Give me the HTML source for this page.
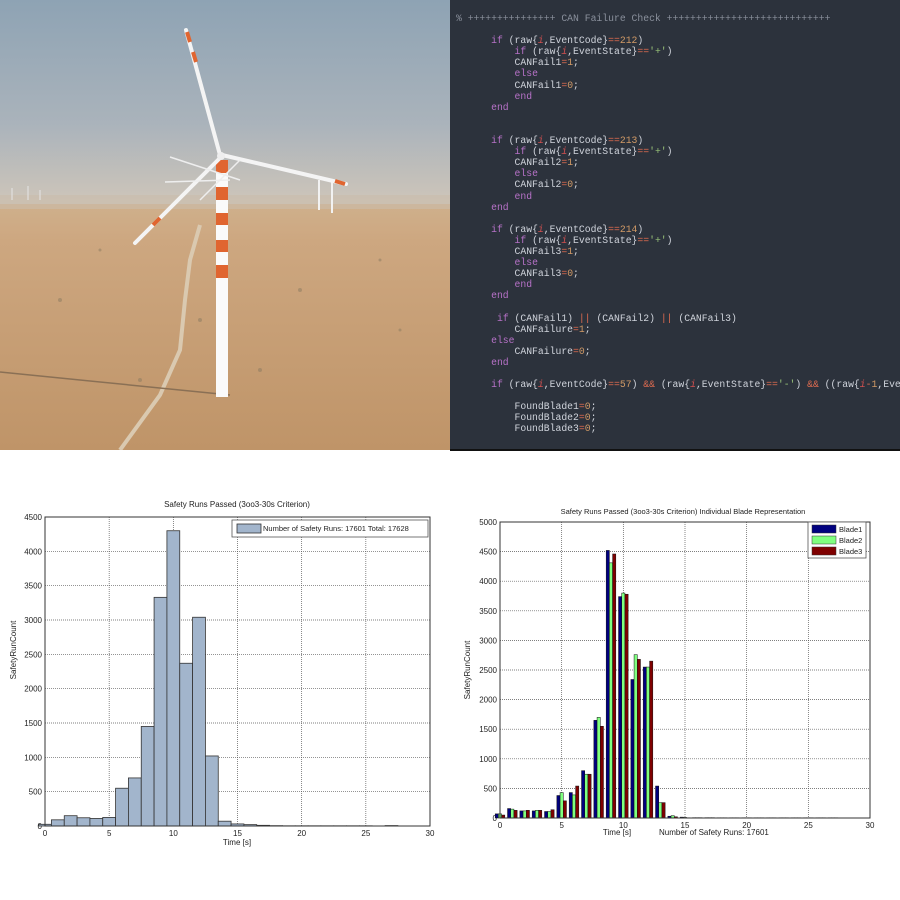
<!DOCTYPE html>
<html><head><meta charset="utf-8"><style>
html,body{margin:0;padding:0;background:#fff;width:900px;height:900px;overflow:hidden}
#root{position:relative;width:900px;height:900px}
#code{position:absolute;left:450px;top:0;width:450px;height:449px;background:#2c323c;overflow:hidden;border-bottom:2px solid #111}
#code pre{margin:0;position:absolute;left:456px;top:0;font-family:"Liberation Mono",monospace;font-size:9.75px;line-height:11.1px;color:#d0d4dc;white-space:pre}
.k{color:#b772c8}.n{color:#d19a66}.o{color:#e06c50}.v{color:#d05050;font-style:italic}.s{color:#98c379}.c{color:#8a909c}
svg text{font-family:"Liberation Sans",sans-serif}
</style></head><body><div id="root">
<svg id="photo" width="450" height="450" style="position:absolute;left:0;top:0">
<defs><linearGradient id="sky" x1="0" y1="0" x2="0" y2="1"><stop offset="0" stop-color="#8ea3b4"/><stop offset="0.6" stop-color="#aab3bb"/><stop offset="1" stop-color="#cfc6ba"/></linearGradient>
<linearGradient id="gr" x1="0" y1="0" x2="0" y2="1"><stop offset="0" stop-color="#cfb08c"/><stop offset="0.15" stop-color="#cda780"/><stop offset="1" stop-color="#bf9468"/></linearGradient></defs>
<rect width="450" height="206" fill="url(#sky)"/>
<rect y="204" width="450" height="246" fill="url(#gr)"/>
<rect y="195" width="450" height="14" fill="#c9bcab" opacity="0.6"/>
<g fill="#8a7a60" opacity="0.5"><circle cx="60" cy="300" r="2"/><circle cx="300" cy="290" r="2"/><circle cx="380" cy="260" r="1.5"/><circle cx="100" cy="250" r="1.5"/><circle cx="200" cy="320" r="2"/><circle cx="140" cy="380" r="2"/><circle cx="400" cy="330" r="1.5"/><circle cx="260" cy="370" r="2"/></g>
<path d="M200 225 L190 260 L185 300 L180 350 L160 395 L120 450" stroke="#dac9b0" stroke-width="4" fill="none"/>
<path d="M0 372 L230 395" stroke="#8a7055" stroke-width="1.5"/>
<g stroke="#f2f2f2" stroke-width="2"><line x1="319" y1="180" x2="319" y2="210"/><line x1="332" y1="180" x2="332" y2="213"/></g>
<g stroke="#e6e6e6" stroke-width="1"><line x1="12" y1="188" x2="12" y2="200"/><line x1="28" y1="186" x2="28" y2="200"/><line x1="40" y1="190" x2="40" y2="200"/></g>
<g fill="#fafafa"><rect x="216" y="160" width="12" height="237"/></g>
<g fill="#e06530"><rect x="216" y="160" width="12" height="13"/><rect x="216" y="187" width="12" height="13"/><rect x="216" y="213" width="12" height="12"/><rect x="216" y="240" width="12" height="12"/><rect x="216" y="265" width="12" height="13"/></g>
<g stroke="#f4f4f4" stroke-width="4" stroke-linecap="round"><line x1="220" y1="155" x2="186" y2="30"/><line x1="220" y1="158" x2="135" y2="243"/><line x1="222" y1="155" x2="346" y2="184"/></g>
<g stroke="#e06530" stroke-width="4"><line x1="190" y1="42" x2="187" y2="32"/><line x1="196" y1="62" x2="193" y2="52"/><line x1="160" y1="218" x2="153" y2="225"/><line x1="345" y1="184" x2="335" y2="181"/></g>
<circle cx="221" cy="156" r="4" fill="#eee"/>
<g stroke="#eee" stroke-width="1.5"><line x1="170" y1="157" x2="240" y2="180"/><line x1="200" y1="200" x2="240" y2="160"/><line x1="230" y1="180" x2="165" y2="182"/></g>
</svg>
<div id="code"><pre style="left:6px;top:13px"><span class="c">% +++++++++++++++ CAN Failure Check ++++++++++++++++++++++++++++</span>

      <span class="k">if</span> (raw{<span class="v">i</span>,EventCode}<span class="o">==</span><span class="n">212</span>)
          <span class="k">if</span> (raw{<span class="v">i</span>,EventState}<span class="o">==</span><span class="s">'+'</span>)
          CANFail1<span class="o">=</span><span class="n">1</span>;
          <span class="k">else</span>
          CANFail1<span class="o">=</span><span class="n">0</span>;
          <span class="k">end</span>
      <span class="k">end</span>


      <span class="k">if</span> (raw{<span class="v">i</span>,EventCode}<span class="o">==</span><span class="n">213</span>)
          <span class="k">if</span> (raw{<span class="v">i</span>,EventState}<span class="o">==</span><span class="s">'+'</span>)
          CANFail2<span class="o">=</span><span class="n">1</span>;
          <span class="k">else</span>
          CANFail2<span class="o">=</span><span class="n">0</span>;
          <span class="k">end</span>
      <span class="k">end</span>

      <span class="k">if</span> (raw{<span class="v">i</span>,EventCode}<span class="o">==</span><span class="n">214</span>)
          <span class="k">if</span> (raw{<span class="v">i</span>,EventState}<span class="o">==</span><span class="s">'+'</span>)
          CANFail3<span class="o">=</span><span class="n">1</span>;
          <span class="k">else</span>
          CANFail3<span class="o">=</span><span class="n">0</span>;
          <span class="k">end</span>
      <span class="k">end</span>

       <span class="k">if</span> (CANFail1) <span class="o">||</span> (CANFail2) <span class="o">||</span> (CANFail3)
          CANFailure<span class="o">=</span><span class="n">1</span>;
      <span class="k">else</span>
          CANFailure<span class="o">=</span><span class="n">0</span>;
      <span class="k">end</span>

      <span class="k">if</span> (raw{<span class="v">i</span>,EventCode}<span class="o">==</span><span class="n">57</span>) <span class="o">&amp;&amp;</span> (raw{<span class="v">i</span>,EventState}<span class="o">==</span><span class="s">'-'</span>) <span class="o">&amp;&amp;</span> ((raw{<span class="v">i</span><span class="o">-</span><span class="n">1</span>,EventState

          FoundBlade1<span class="o">=</span><span class="n">0</span>;
          FoundBlade2<span class="o">=</span><span class="n">0</span>;
          FoundBlade3<span class="o">=</span><span class="n">0</span>;
</pre></div>
<svg id="c1" width="450" height="450" style="position:absolute;left:0;top:450px"></svg>
<svg id="c2" width="450" height="450" style="position:absolute;left:450px;top:450px"></svg>
</div>
<script>
const histBins = [0,1,2,3,4,5,6,7,8,9,10,11,12,13,14,15,16,17,18,19,20,21,22,23,24,25,26,27];
const histCounts = [25,90,150,120,110,125,550,700,1450,3330,4300,2370,3040,1020,70,30,20,10,5,3,3,3,3,3,3,3,0,6];
const histTicksX = [0,5,10,15,20,25,30];
const histTicksY = [0,500,1000,1500,2000,2500,3000,3500,4000,4500];
const bladeBins = [0,1,2,3,4,5,6,7,8,9,10,11,12,13,14,15,16,17,18,19,20,21,22,23,24,25,26,27];
const blade1 = [70,160,120,120,110,380,430,800,1650,4520,3740,2340,2550,540,30,15,6,6,5,5,5,5,5,5,5,5,5,5];
const blade2 = [70,150,120,130,110,430,390,740,1700,4310,3800,2760,2550,260,40,10,6,6,5,5,5,5,5,5,5,5,5,5];
const blade3 = [50,130,130,130,140,290,540,740,1550,4460,3780,2680,2650,260,20,5,6,6,5,5,5,5,5,5,5,5,5,5];
const bladeTicksX = [0,5,10,15,20,25,30];
const bladeTicksY = [0,500,1000,1500,2000,2500,3000,3500,4000,4500,5000];
const NS='http://www.w3.org/2000/svg';
function mk(p,t,a){const e=document.createElementNS(NS,t);for(const k in a)e.setAttribute(k,a[k]);p.appendChild(e);return e;}
function txt(p,x,y,s,size,anchor,rot){const e=mk(p,'text',{x:x,y:y,'font-size':size,'text-anchor':anchor||'middle',fill:'#222'});if(rot)e.setAttribute('transform','rotate(-90 '+x+' '+y+')');e.textContent=s;return e;}
function axes(svg,X0,X1,Y0,Y1,xmax,ymax,tx,ty){
  const x=v=>X0+v*(X1-X0)/xmax, y=v=>Y0-v*(Y0-Y1)/ymax;
  mk(svg,'rect',{x:X0,y:Y1,width:X1-X0,height:Y0-Y1,fill:'#fff',stroke:'#333','stroke-width':1});
  tx.forEach(t=>{const g=mk(svg,'line',{x1:x(t),x2:x(t),y1:Y1,y2:Y0,stroke:'#555','stroke-dasharray':'1,1','stroke-width':0.7});
    
    const l=txt(svg,x(t),Y0+10,String(t),8);});
  ty.forEach(t=>{const g=mk(svg,'line',{x1:X0,x2:X1,y1:y(t),y2:y(t),stroke:'#555','stroke-dasharray':'1,1','stroke-width':0.7});
    
    const l=txt(svg,X0-3,y(t)+3,String(t),8,'end');});
  return [x,y];
}
(function(){
  const svg=document.getElementById('c1');
  const [x,y]=axes(svg,45,430,376,67,30,4500,histTicksX,histTicksY);
  histBins.forEach((b,i)=>{if(!histCounts[i])return;const r=mk(svg,'rect',{x:x(b-0.5),y:y(histCounts[i]),width:x(1)-x(0),height:y(0)-y(histCounts[i]),fill:'#a2b5cc',stroke:'#333','stroke-width':0.8});
    });
  mk(svg,'rect',{x:45,y:67,width:385,height:309,fill:'none',stroke:'#333','stroke-width':1});
  const t=txt(svg,237,57,'Safety Runs Passed (3oo3-30s Criterion)',8);
  const xl=txt(svg,237,395,'Time [s]',8);
  const yl=txt(svg,16,200,'SafetyRunCount',8,'middle',true);
  const lg=mk(svg,'g',{});
  mk(lg,'rect',{x:232,y:70,width:196,height:17,fill:'#fff',stroke:'#555','stroke-width':0.8});
  mk(lg,'rect',{x:237,y:74,width:24,height:9,fill:'#a2b5cc',stroke:'#333','stroke-width':0.8});
  txt(lg,263,81,'Number of Safety Runs: 17601  Total: 17628',7.5,'start');
})();
(function(){
  const svg=document.getElementById('c2');
  const [x,y]=axes(svg,50,420,368,72,30,5000,bladeTicksX,bladeTicksY);
  const series=[[blade1,'#00007f',-1],[blade2,'#7fff7f',0],[blade3,'#7f0000',1]];
  const w=(x(1)-x(0))*0.26;
  series.forEach(([vals,col,off])=>{bladeBins.forEach((b,i)=>{const v=vals[i];
    const r=mk(svg,'rect',{x:x(b)+off*w-w/2,y:y(v),width:w,height:y(0)-y(v),fill:col,stroke:'#111','stroke-width':0.5});
    });});
  mk(svg,'rect',{x:50,y:72,width:370,height:296,fill:'none',stroke:'#333','stroke-width':1});
  const t=txt(svg,233,64,'Safety Runs Passed (3oo3-30s Criterion) Individual Blade Representation',7.5);
  const xl=txt(svg,167,385,'Time [s]',8);
  const nl=txt(svg,209,385,'Number of Safety Runs: 17601',8,'start');
  const yl=txt(svg,20,220,'SafetyRunCount',8,'middle',true);
  const lg=mk(svg,'g',{});
  mk(lg,'rect',{x:358,y:72,width:58,height:36,fill:'#fff',stroke:'#555','stroke-width':0.8});
  [['Blade1','#00007f'],['Blade2','#7fff7f'],['Blade3','#7f0000']].forEach(([n,c],i)=>{
    mk(lg,'rect',{x:362,y:75+i*11,width:24,height:8,fill:c,stroke:'#333','stroke-width':0.5});
    txt(lg,389,82+i*11,n,7.5,'start');});
})();
</script>
</body></html>
